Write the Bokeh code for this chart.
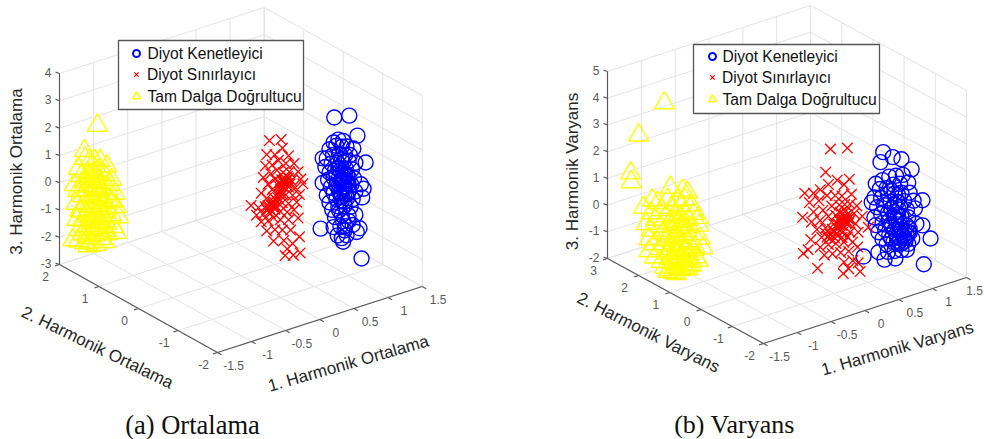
from bokeh.plotting import figure
from bokeh.models import Range1d
from bokeh.core.properties import value
from bokeh.embed import file_html
from bokeh.resources import INLINE

SANS = "Liberation Sans"
SERIF = "Liberation Serif"
BLUE, RED, YELLOW = "#0000ff", "#ff0000", "#ffff00"
series_names = ["Diyot Kenetleyici", "Diyot Sınırlayıcı", "Tam Dalga Doğrultucu"]

# ---------- panel (a): 1. harmonic, 3. harmonic values per class ----------
a_y_blue, a_y_red, a_y_yellow = -1.0, -1.0, 1.8
a_blue = [(.79,2.96),(1.01,2.85),(1.13,2.02),(1.25,.94),(.59,-.95),(1.19,-2.53),
(.78,2.05),(.85,2.1),(.92,2.0),(.72,1.85),(.82,1.9),(.9,1.8),(.97,1.75),(1.07,1.6),(.62,1.6),(.68,1.55),(.77,1.6),(.86,1.55),(.95,1.45),(1.02,1.4),(.66,1.25),(.75,1.3),(.84,1.25),(.92,1.2),(1.0,1.2),(1.1,1.05),(.72,1.0),(.8,1.0),(.88,.95),(.96,.95),(1.05,.85),(.62,.7),(.7,.75),(.78,.75),(.86,.7),(.93,.65),(1.0,.6),(1.08,.5),(.74,.45),(.82,.45),(.9,.45),(.97,.4),(1.04,.3),(1.18,.2),(.68,.2),(.78,.2),(.86,.2),(.93,.2),(1.0,.1),(1.1,0),(1.22,0),(.72,-.1),(.82,-.05),(.9,-.05),(.98,-.15),(1.06,-.25),(1.2,-.3),(.76,-.4),(.85,-.35),(.94,-.4),(1.03,-.5),(.8,-.7),(.9,-.7),(1.0,-.8),(1.1,-.85),(.78,-1.05),(.95,-1.15),(1.06,-1.2),(.84,-1.4),(.9,-1.55),(.97,-1.5),(1.12,-1.5),(1.16,-1.4),(.92,-1.7),
(.9,.6),(.94,.55),(.97,.5),(.92,.5),(.88,.55),(.95,.75),(.92,.85),(.98,.7),(.86,.45),(.9,.3),(.94,.3),(1.0,.35),(.88,.1),(.94,.05),(.97,0),(.9,-.2),(.94,-.25),(.86,-.5),(.92,-.95),(1.0,-1.0),(.88,-1.1),(.94,-1.3),(.82,.85),(.85,1.05),(.9,1.35)]
a_red = [(-.16,2.88),(.01,2.78),(-.2,2.4),(-.08,2.3),(.03,2.45),(.12,2.1),(-.22,2.0),(-.12,1.95),(-.03,2.05),(.08,1.85),(.2,1.75),(-.25,1.6),(-.14,1.65),(-.05,1.7),(.04,1.55),(.13,1.5),(.26,1.4),(-.18,1.3),(-.08,1.4),(.02,1.3),(.07,1.2),(.1,1.35),(.16,1.15),(.3,1.1),(-.28,1.05),(-.12,1.05),(-.02,1.1),(.05,1.0),(.12,.95),(.22,.85),(.33,.9),(-.2,.8),(-.1,.75),(0,.85),(.08,.7),(.18,.6),(.28,.55),(-.43,.72),(-.32,.55),(-.22,.5),(-.12,.47),(-.05,.55),(.03,.45),(.12,.35),(.24,.3),(-.35,.3),(-.25,.25),(-.15,.2),(-.08,.3),(0,.15),(.1,.05),(.2,.05),(-.28,0),(-.18,-.05),(-.1,0),(.0,-.15),(.12,-.25),(.26,-.3),(-.2,-.4),(-.08,-.45),(.03,-.55),(.15,-.65),(-.1,-.85),(.05,-.95),(.18,-1.17),(.28,-1.0),(.1,-1.3),(.19,-1.6),(.29,-1.6),(.07,-1.52),
(.05,1.25),(.08,1.15),(.1,1.1),(.04,1.18),(.12,1.28),(.06,1.32),(.0,1.2),(.14,1.05),(.02,1.08),(.09,1.22),(-.14,.5),(-.1,.42),(-.16,.4),(-.12,.58),(-.08,.45),(-.18,.52),(-.06,.38),(-.2,.38),(-.14,.3),(-.1,.6),(-.04,.7),(.0,.95),(-.02,.8),(.03,.75)]
a_yellow = [(-1.06,1.9),(-1.25,1.13),(-1.24,.84),(-1.02,.58),(-1.34,.55),(-1.1,.65),(-1.17,.7),(-.92,.3),(-1.05,.25),(-1.2,.3),(-1.3,.25),(-1.4,.0),(-1.15,.1),(-.95,.0),(-1.25,.0),(-1.08,-.05),(-.85,-.25),(-1.35,-.25),(-1.2,-.2),(-1.0,-.25),(-1.12,-.3),(-1.28,-.5),(-1.05,-.5),(-.9,-.55),(-1.18,-.55),(-.8,-.8),(-1.38,-.7),(-1.1,-.75),(-.98,-.8),(-1.24,-.8),(-.85,-1.05),(-1.32,-1.0),(-1.15,-1.0),(-1.03,-1.05),(-.92,-1.25),(-1.22,-1.2),(-1.08,-1.25),(-.78,-1.3),(-1.36,-1.3),(-1.28,-1.4),(-1.14,-1.45),(-.98,-1.5),(-.85,-1.55),(-1.05,-1.65),(-1.22,-1.65),(-.75,-1.7),(-1.33,-1.7),(-.92,-1.8),(-1.12,-1.85),(-1.28,-1.9),(-1.42,-2.0),(-1.0,-2.0),(-.82,-2.0),(-1.2,-2.1),(-1.08,-2.1),(-.9,-2.2),(-1.35,-2.1),(-1.15,-2.3),(-1.25,-2.25),(-1.0,-2.3),(-.78,-2.25),(-1.08,-2.45),(-.95,-2.45),(-1.2,-2.4),
(-1.1,.2),(-1.18,.15),(-1.02,.12),(-1.12,-.1),(-1.05,-.15),(-1.2,-.35),(-1.08,-.4),(-1.0,-.45),(-1.15,-.65),(-1.05,-.7),(-1.2,-.95),(-1.1,-.9),(-.98,-1.0),(-1.12,-1.15),(-1.02,-1.2),(-1.18,-1.35),(-1.08,-1.4),(-.95,-1.35),(-1.15,-1.6),(-1.02,-1.55),(-.95,-1.7),(-1.18,-1.8),(-1.05,-1.85),(-1.1,-2.0),(-.95,-2.05),(-1.22,-2.0),(-1.3,-1.05),(-.9,-.95),(-1.3,-.3),(-.88,-.4)]

# ---------- panel (b) ----------
b_y_blue, b_y_red, b_y_yellow = -1.0, -1.0, 1.5
b_blue = [(.73,2.69),(.69,2.35),(1.0,2.2),(.87,2.39),(1.15,1.7),(1.43,-1.12),(1.33,-2.0),(.44,-.98),(.56,.95),(.91,-1.44),(.66,-1.0),(1.31,.41),(1.31,-.53),
(.62,1.6),(.72,1.65),(.82,1.7),(.92,1.65),(1.02,1.6),(.68,1.35),(.78,1.3),(.88,1.35),(.98,1.3),(1.1,1.25),(.6,1.1),(.7,1.0),(.8,1.05),(.9,1.0),(1.0,.95),(1.12,.85),(.64,.7),(.74,.7),(.84,.75),(.94,.65),(1.04,.6),(1.18,.5),(.6,.35),(.7,.4),(.8,.35),(.9,.3),(.96,.35),(1.08,.25),(1.2,.2),(.62,.05),(.72,.05),(.82,.05),(.92,0),(1.0,.05),(1.1,-.05),(.66,-.25),(.76,-.25),(.86,-.2),(.96,-.05),(.98,-.3),(1.08,-.35),(1.22,-.4),(.72,-.55),(.82,-.5),(.92,-.55),(1.0,-.6),(1.12,-.65),(.78,-.8),(.88,-.8),(.97,-.85),(1.06,-.9),(1.16,-.9),(.8,-1.1),(.9,-1.15),(1.0,-1.2),(1.08,-1.25),(.75,-1.35),
(.95,-.4),(1.0,-.45),(1.05,-.5),(1.1,-.6),(1.02,-.7),(1.08,-.72),(1.12,-.5),(1.05,-.8),(.98,-.75),(.94,-.9),(1.0,-.95),(1.1,-1.05),(.85,-.1),(.9,.1),(.95,.15),(.85,.45),(.9,.6),(.98,.45),(.95,.9),(.85,1.15),(.9,-.35),(.85,-.65)]
b_red = [(-.05,3.45),(.2,3.28),(-.12,2.64),(.23,2.09),(-.43,2.11),(-.46,1.23),(-.45,-.13),(-.24,-.86),(.14,-1.37),(.39,-1.5),(.51,.06),(.14,.62),
(-.3,2.0),(-.2,2.05),(-.08,2.15),(.05,2.2),(.15,1.95),(-.36,1.7),(-.22,1.65),(-.1,1.75),(.02,1.65),(.12,1.55),(.26,1.5),(-.3,1.3),(-.16,1.25),(-.03,1.3),(.08,1.25),(.16,1.2),(.24,1.15),(.34,1.0),(-.33,.95),(-.2,.9),(-.08,.95),(.03,.9),(.12,.85),(.2,.8),(.3,.75),(.42,.55),(-.25,.6),(-.12,.55),(0,.6),(.08,.5),(.16,.55),(.22,.45),(.32,.35),(-.34,.3),(-.18,.25),(-.05,.25),(.05,.2),(.14,.2),(.24,.1),(.36,0),(-.38,-.05),(-.2,-.1),(-.08,-.1),(.03,-.15),(.15,-.2),(.28,-.3),(-.14,-.45),(-.02,-.5),(.1,-.55),(.22,-.6),(.35,-.55),(.15,-.95),(.28,-1.0),(.36,-1.15),(.22,-1.25),
(.14,.65),(.18,.6),(.1,.6),(.12,.7),(.16,.72),(.2,.68),(.08,.68),(.06,.55),(.18,.5),(.12,.45),(.22,.6),(.25,.55),(.05,.4),(.0,.3),(-.02,.42),(.09,.3),(-.1,.2),(-.06,.1),(.02,.05),(.12,.0),(.2,-.05),(-.12,.35),(.1,.95),(.18,.95)]
b_yellow = [(-1.35,4.65),(-1.73,3.76),(-1.85,2.44),(-1.84,2.1),(-1.26,1.42),(-1.08,1.16),(-1.01,1.03),(-1.53,1.16),(-1.66,1.0),
(-1.45,1.0),(-1.3,1.0),(-1.15,.85),(-1.05,.8),(-1.55,.7),(-1.4,.7),(-1.25,.65),(-1.1,.6),(-.95,.5),(-1.62,.35),(-1.48,.4),(-1.33,.4),(-1.2,.35),(-1.05,.3),(-.92,.15),(-1.55,.05),(-1.42,.1),(-1.28,.1),(-1.15,.05),(-1.0,.0),(-.85,-.05),(-1.58,-.25),(-1.38,-.2),(-1.25,-.2),(-1.12,-.2),(-.98,-.3),(-.84,-.35),(-1.5,-.5),(-1.32,-.5),(-1.2,-.45),(-1.08,-.5),(-.92,-.6),(-1.58,-.7),(-1.42,-.75),(-1.25,-.75),(-1.12,-.75),(-1.0,-.8),(-.82,-.85),(-1.5,-1.0),(-1.32,-1.0),(-1.18,-1.0),(-1.05,-1.05),(-.9,-1.1),(-1.4,-1.25),(-1.25,-1.25),(-1.12,-1.3),(-.98,-1.3),(-.78,-1.25),(-1.35,-1.5),(-1.2,-1.5),(-1.05,-1.5),(-.88,-1.5),(-1.28,-1.65),(-1.15,-1.7),(-1.0,-1.7),(-.85,-1.65),(-1.22,-1.8),(-1.1,-1.8),(-.95,-1.75),
(-1.2,.1),(-1.12,.2),(-1.25,-.05),(-1.18,-.3),(-1.1,-.1),(-1.05,-.15),(-1.22,-.55),(-1.15,-.55),(-1.02,-.4),(-1.18,-.85),(-1.08,-.85),(-1.28,-.95),(-1.15,-1.15),(-1.02,-1.15),(-1.25,-1.4),(-1.15,-1.4),(-1.0,-1.45),(-1.08,-1.6),(-.95,-1.6),(-1.2,-1.6),(-1.05,-1.75),(-1.0,-1.85),(-1.18,-1.88),(-1.3,-1.7),(-.92,-1.2)]

x_ticks = [-1.5, -1, -0.5, 0, 0.5, 1, 1.5]
x_tick_labels = ["-1.5", "-1", "-0.5", "0", "0.5", "1", "1.5"]
a_y_ticks = [-2, -1, 0, 1, 2]
a_z_ticks = [-3, -2, -1, 0, 1, 2, 3, 4]
b_y_ticks = [-2, -1, 0, 1, 2, 3]
b_z_ticks = [-2, -1, 0, 1, 2, 3, 4, 5]

p = figure(width=984, height=439, x_range=Range1d(0, 984), y_range=Range1d(439, 0),
           toolbar_location=None, output_backend="svg", min_border=0)
p.axis.visible = False
p.grid.visible = False
p.outline_line_color = None


def panel(F, R, L, height, y_ticks, z_ticks, clusters, names, label_pos, legend_box,
          legend_rows, caption, caption_pos, caption_size, last_x_shift):
    xmin, xmax = x_ticks[0], x_ticks[-1]
    ymin, ymax = y_ticks[0], y_ticks[-1]
    zmin, zmax = z_ticks[0], z_ticks[-1]

    def proj(x, y, z):
        u = (x - xmin) / (xmax - xmin)
        v = (y - ymin) / (ymax - ymin)
        w = (z - zmin) / (zmax - zmin)
        return (F[0] + u * (R[0] - F[0]) + v * (L[0] - F[0]),
                F[1] + u * (R[1] - F[1]) + v * (L[1] - F[1]) - w * height)

    def seg(a, b):
        pa, pb = proj(*a), proj(*b)
        return [pa[0], pb[0]], [pa[1], pb[1]]

    grid = []
    for x in x_ticks:
        grid.append(seg((x, ymin, zmin), (x, ymax, zmin)))
        grid.append(seg((x, ymax, zmin), (x, ymax, zmax)))
    for y in y_ticks:
        grid.append(seg((xmin, y, zmin), (xmax, y, zmin)))
        grid.append(seg((xmax, y, zmin), (xmax, y, zmax)))
    for z in z_ticks:
        grid.append(seg((xmin, ymax, z), (xmax, ymax, z)))
        grid.append(seg((xmax, ymax, z), (xmax, ymin, z)))
    p.multi_line([g[0] for g in grid], [g[1] for g in grid], line_color="#e3e3e3", line_width=1)

    # axes and ticks
    ax = [seg((xmin, ymin, zmin), (xmax, ymin, zmin)),
          seg((xmin, ymin, zmin), (xmin, ymax, zmin)),
          seg((xmin, ymax, zmin), (xmin, ymax, zmax))]
    tx, ty = [], []
    for x in x_ticks:
        a = proj(x, ymin, zmin)
        tx.append([a[0], a[0] + 4]); ty.append([a[1], a[1] + 2.2])
    for y in y_ticks:
        a = proj(xmin, y, zmin)
        tx.append([a[0], a[0] - 4.5]); ty.append([a[1], a[1] + 1.4])
    for z in z_ticks:
        a = proj(xmin, ymax, z)
        tx.append([a[0], a[0] - 4]); ty.append([a[1], a[1] - 1.4])
    p.multi_line([s[0] for s in ax] + tx, [s[1] for s in ax] + ty, line_color="#5a5a5a", line_width=1.2)

    # tick labels
    lx, ly, lt = [], [], []
    for x, t in zip(x_ticks, x_tick_labels):
        a = proj(x, ymin, zmin)
        lx.append(a[0] + 16); ly.append(a[1] + 12.5); lt.append(t)
    lx[-1] += last_x_shift
    for y in y_ticks:
        a = proj(xmin, y, zmin)
        lx.append(a[0] - 14); ly.append(a[1] + 11.5); lt.append(str(y))
    p.text(lx, ly, lt, text_font=value(SANS), text_font_size="12px", text_color="#595959",
           text_align="center", text_baseline="middle")
    zx, zy, zt = [], [], []
    for z in z_ticks:
        a = proj(xmin, ymax, z)
        zx.append(a[0] - 8); zy.append(a[1] - 1); zt.append(str(z))
    p.text(zx, zy, zt, text_font=value(SANS), text_font_size="12px", text_color="#595959",
           text_align="right", text_baseline="middle")

    # axis titles
    for nm, (cx, cy, ang) in zip(names, label_pos):
        p.text([cx], [cy], [nm], angle=ang, angle_units="deg", text_font=value(SANS),
               text_font_size="17px", text_color="#262626", text_align="center", text_baseline="middle")

    # data
    for pts, y, col, mk, sz, lw in clusters:
        sx = [proj(a, y, b)[0] for a, b in pts]
        sy = [proj(a, y, b)[1] for a, b in pts]
        p.scatter(sx, sy, marker=mk, size=sz, line_color=col, fill_color=None, line_width=lw)

    # legend
    x0, x1, y0, y1 = legend_box
    p.quad(left=[x0], right=[x1], top=[y0], bottom=[y1], fill_color="white", line_color="#555555", line_width=1.3)
    mx, tx0, rows = legend_rows
    marks = [("circle", BLUE, 7, 2), ("x", RED, 6, 1.2), ("triangle", YELLOW, 8, 1.6)]
    for name, (ry, tshift), (mk, col, sz, lw) in zip(series_names, rows, marks):
        p.scatter([mx], [ry], marker=mk, size=sz, line_color=col, fill_color=None, line_width=lw)
        p.text([tx0 + tshift], [ry], [name], text_font=value(SANS), text_font_size="15.6px", text_color="#111111",
               text_align="left", text_baseline="middle")

    # caption
    p.text([caption_pos[0]], [caption_pos[1]], [caption], text_font=value(SERIF), text_font_size=caption_size,
           text_color="#111111", text_align="center", text_baseline="middle")


panel((217, 352), (421.7, 286), (59, 264), 191, a_y_ticks, a_z_ticks,
      [(a_blue, a_y_blue, BLUE, "circle", 15, 1.4),
       (a_red, a_y_red, RED, "x", 15, 1.3),
       (a_yellow, a_y_yellow, YELLOW, "triangle", 20, 1.4)],
      ["1. Harmonik Ortalama", "2. Harmonik Ortalama", "3. Harmonik Ortalama"],
      [(348, 363, 16), (97, 347, -26), (16, 171, 90)],
      (118, 303, 40, 109), (136, 147, [(53, 0), (74, -0.5), (96, 0)]),
      "(a) Ortalama", (192, 424), "26.5px", 0)

panel((763, 343), (966, 277), (607, 258), 187, b_y_ticks, b_z_ticks,
      [(b_blue, b_y_blue, BLUE, "circle", 15, 1.4),
       (b_red, b_y_red, RED, "x", 15, 1.3),
       (b_yellow, b_y_yellow, YELLOW, "triangle", 20, 1.4)],
      ["1. Harmonik Varyans", "2. Harmonik Varyans", "3. Harmonik Varyans"],
      [(897, 348, 16), (648, 332, -27), (572, 171, 90)],
      (693, 879, 44, 113), (712, 722, [(56, 0), (77, -0.5), (99, 0)]),
      "(b) Varyans", (734, 424), "26px", -8)

open("out.html", "w").write(file_html(p, INLINE))
